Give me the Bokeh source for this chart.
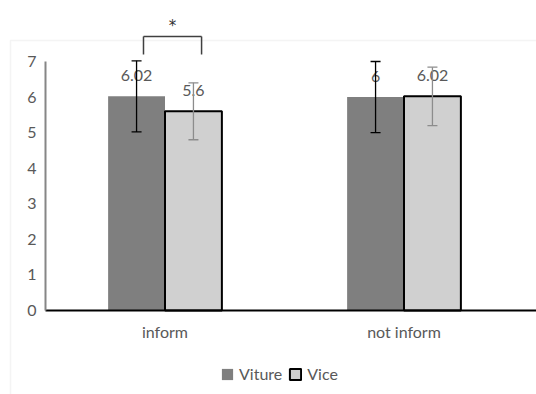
from bokeh.plotting import figure
from bokeh.models import (ColumnDataSource, Range1d, Whisker, TeeHead,
                          Legend, LegendItem, FixedTicker, BoxAnnotation)
from bokeh.embed import file_html
from bokeh.resources import INLINE
from bokeh.core.properties import value

# ---- data ----
categories = ["inform", "not inform"]
viture = [6.02, 6.0]
vice = [5.6, 6.02]
viture_err = [1.0, 1.0]
vice_err = [0.8, 0.82]
viture_labels = ["6.02", "6"]
vice_labels = ["5.6", "6.02"]
y_ticks = [0, 1, 2, 3, 4, 5, 6, 7]
series_names = ["Viture", "Vice"]
sig_index = 0          # bracket over "inform"
sig_text = ["*"]
bracket_top = [7.7]
bracket_bottom = [7.2]
star_y = [8.0]

# ---- style ----
FONT = "Lato"
TXT = "#595959"
BAR_W = 0.238
OFF = 0.119
BR_L = -0.09
BR_R = 0.153
X_START, X_END = -0.1883, 2.0544
Y_START, Y_END = -2.3615, 8.715

xc = [i + 0.5 for i in range(len(categories))]
src = ColumnDataSource(dict(
    x_vit=[x - OFF for x in xc], x_vic=[x + OFF for x in xc],
    viture=viture, vice=vice,
    vit_up=[v + e for v, e in zip(viture, viture_err)],
    vit_lo=[v - e for v, e in zip(viture, viture_err)],
    vic_up=[v + e for v, e in zip(vice, vice_err)],
    vic_lo=[v - e for v, e in zip(vice, vice_err)],
    vit_lbl=viture_labels, vic_lbl=vice_labels,
))

p = figure(width=536, height=394,
           x_range=Range1d(X_START, X_END), y_range=Range1d(Y_START, Y_END),
           output_backend="svg", toolbar_location=None,
           min_border_left=0, min_border_right=0, min_border_top=0,
           min_border_bottom=0, outline_line_color=None)

border = BoxAnnotation(left=10, right=700, top=40, bottom=700,
                       left_units="canvas", right_units="canvas",
                       top_units="canvas", bottom_units="canvas",
                       fill_color=None, fill_alpha=0, line_color="#d9d9d9",
                       line_width=1.5, level="underlay")
p.add_layout(border)

r1 = p.vbar(x="x_vit", top="viture", width=BAR_W,
            source=src, fill_color="#7f7f7f", line_color=None)
r2 = p.vbar(x="x_vic", top="vice", width=BAR_W,
            source=src, fill_color="#d0d0d0", line_color="black", line_width=2)

p.text(x="x_vit", y="viture", text="vit_lbl", source=src,
       text_align="center", text_baseline="bottom", y_offset=-15,
       text_font=value(FONT), text_font_size="16px", text_color=TXT)
p.text(x="x_vic", y="vice", text="vic_lbl", source=src,
       text_align="center", text_baseline="bottom", y_offset=-15,
       text_font=value(FONT), text_font_size="16px", text_color=TXT)

p.add_layout(Whisker(source=src, base="x_vit",
                     upper="vit_up", lower="vit_lo", line_color="black", line_width=1.3,
                     level="overlay",
                     upper_head=TeeHead(size=10, line_color="black", line_width=1.3),
                     lower_head=TeeHead(size=10, line_color="black", line_width=1.3)))
p.add_layout(Whisker(source=src, base="x_vic",
                     upper="vic_up", lower="vic_lo", line_color="#8c8c8c", line_width=1.3,
                     level="overlay",
                     upper_head=TeeHead(size=10, line_color="#8c8c8c", line_width=1.3),
                     lower_head=TeeHead(size=10, line_color="#8c8c8c", line_width=1.3)))

# significance bracket
bx = xc[sig_index]
bsrc = ColumnDataSource(dict(xl=[bx + BR_L], xr=[bx + BR_R], xm=[bx + (BR_L + BR_R) / 2],
                             top=bracket_top, bot=bracket_bottom,
                             star=star_y, txt=sig_text))
p.segment(x0="xl", x1="xr", y0="top", y1="top", source=bsrc,
          line_color="#404040", line_width=1.5)
p.segment(x0="xl", x1="xl", y0="top", y1="bot", source=bsrc,
          line_color="#404040", line_width=1.5)
p.segment(x0="xr", x1="xr", y0="top", y1="bot", source=bsrc,
          line_color="#404040", line_width=1.5)
p.text(x="xm", y="star", text="txt", source=bsrc,
       text_align="center", text_baseline="middle",
       text_font=value("DejaVu Sans"), text_font_size="15px", text_color="#303030")

legend = Legend(items=[LegendItem(label=series_names[0], renderers=[r1]),
                       LegendItem(label=series_names[1], renderers=[r2])],
                orientation="horizontal", location=(220, 11),
                border_line_color=None, background_fill_alpha=0,
                label_text_font=FONT, label_text_font_size="16px", label_text_color=TXT,
                glyph_width=14, glyph_height=14, label_standoff=5, spacing=6,
                padding=0, margin=0)
p.add_layout(legend)

p.xgrid.grid_line_color = None
p.ygrid.grid_line_color = None

p.xaxis.fixed_location = 0
p.xaxis.bounds = (0, X_END)
p.xaxis.ticker = FixedTicker(ticks=xc)
p.xaxis.major_label_overrides = {x: c for x, c in zip(xc, categories)}
p.xaxis.axis_line_color = "black"
p.xaxis.axis_line_width = 2
p.xaxis.major_tick_line_color = None
p.xaxis.minor_tick_line_color = None
p.xaxis.major_label_text_font = FONT
p.xaxis.major_label_text_font_size = "16px"
p.xaxis.major_label_text_color = TXT
p.xaxis.major_label_standoff = 6

p.yaxis.fixed_location = 0
p.yaxis.ticker = FixedTicker(ticks=y_ticks)
p.yaxis.bounds = (0, 7)
p.yaxis.axis_line_color = "#868686"
p.yaxis.axis_line_width = 2
p.yaxis.major_tick_line_color = None
p.yaxis.minor_tick_line_color = None
p.yaxis.major_label_text_font = FONT
p.yaxis.major_label_text_font_size = "16px"
p.yaxis.major_label_text_color = TXT
p.yaxis.major_label_standoff = 3

open("out.html", "w").write(file_html(p, INLINE))
